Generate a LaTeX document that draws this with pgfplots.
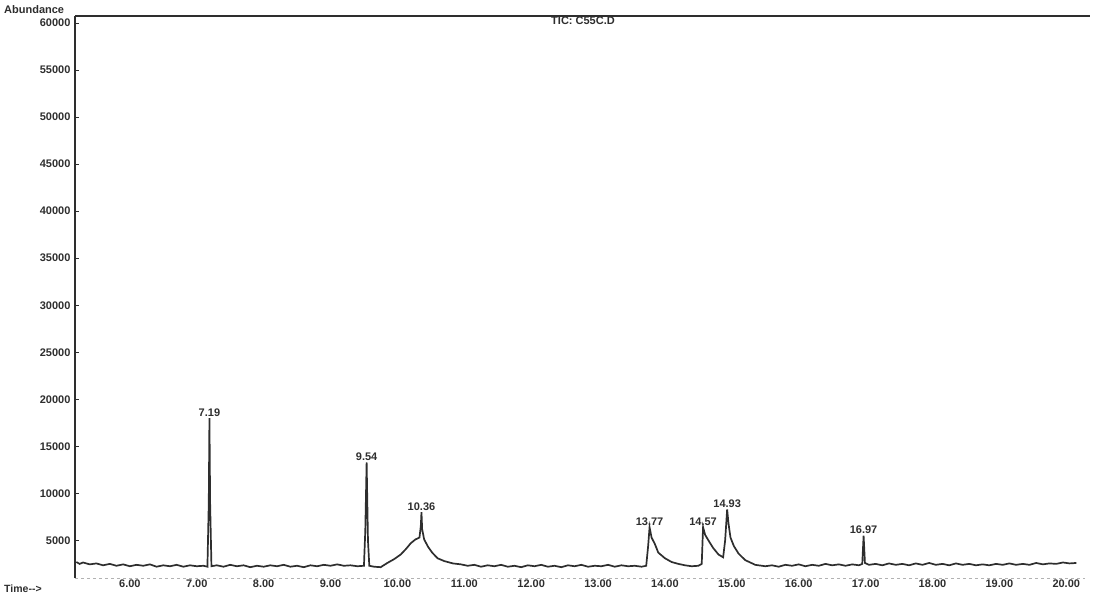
\documentclass[border=0pt]{standalone}
\usepackage{pgfplots}
\pgfplotsset{compat=1.18}
\usepackage{fontspec}
\setmainfont{Liberation Sans}
\definecolor{ink}{HTML}{2E2E2E}
\begin{document}
\begin{tikzpicture}[x=1pt,y=1pt]
\useasboundingbox (0,0) rectangle (1098,608);
\begin{axis}[
  at={(75pt,30pt)}, anchor=south west,
  scale only axis, width=1010pt, height=562pt,
  xmin=5.18, xmax=20.28, ymin=1000, ymax=60750,
  axis y line*=left, axis x line*=bottom,
  y axis line style={draw=ink, line width=2.2pt, -},
  x axis line style={draw=gray!60, line width=0.8pt, dashed, -},
  ytick={5000,10000,...,60000},
  scaled y ticks=false,
  xtick={6,7,...,20},
  /pgf/number format/assume math mode=true,
  yticklabel={\pgfmathprintnumber[fixed,precision=0,set thousands separator={}]{\tick}},
  xticklabel={\pgfmathprintnumber[fixed,fixed zerofill,precision=2]{\tick}},
  tick label style={font=\fontsize{11}{12}\selectfont\bfseries, text=ink},
  y tick label style={xshift=-1pt},
  x tick label style={yshift=2pt},
  major tick length=4pt,
  ytick style={draw=ink, line width=0.8pt},
  xtick style={draw=none},
  clip=false,
]
\addplot[ink, line width=1.7pt] coordinates {
(5.20,2700)(5.25,2500)(5.30,2650)(5.40,2450)(5.50,2550)(5.60,2350)(5.70,2500)(5.80,2300)(5.90,2450)
(6.00,2250)(6.10,2400)(6.20,2300)(6.30,2450)(6.40,2200)(6.50,2350)(6.60,2250)(6.70,2400)(6.80,2200)(6.90,2350)
(7.00,2250)(7.10,2300)(7.16,2200)(7.18,9000)(7.19,18000)(7.20,9000)(7.22,2250)(7.30,2350)(7.40,2200)(7.50,2400)
(7.60,2250)(7.70,2350)(7.80,2150)(7.90,2300)(8.00,2200)(8.10,2350)(8.20,2250)(8.30,2400)(8.40,2200)(8.50,2300)
(8.60,2150)(8.70,2350)(8.80,2250)(8.90,2400)(9.00,2300)(9.10,2450)(9.20,2300)(9.30,2350)(9.40,2250)(9.50,2300)
(9.52,6000)(9.54,13300)(9.56,5000)(9.58,2300)(9.65,2200)(9.75,2150)(9.85,2600)(9.95,3000)(10.05,3500)(10.13,4100)
(10.20,4700)(10.27,5100)(10.33,5300)(10.35,6500)(10.36,8000)(10.37,6200)(10.40,5100)(10.46,4300)(10.52,3700)
(10.60,3100)(10.70,2800)(10.83,2550)(10.95,2450)(11.05,2300)(11.15,2400)(11.25,2200)(11.35,2350)(11.45,2250)
(11.55,2400)(11.65,2200)(11.75,2300)(11.85,2150)(11.95,2350)(12.05,2250)(12.15,2400)(12.25,2200)(12.35,2300)
(12.45,2150)(12.55,2350)(12.65,2250)(12.75,2400)(12.85,2200)(12.95,2300)(13.05,2250)(13.15,2400)(13.25,2200)
(13.35,2350)(13.45,2250)(13.55,2300)(13.65,2200)(13.72,2300)(13.75,4500)(13.77,6400)(13.80,5300)(13.85,4600)
(13.90,3700)(14.00,3100)(14.10,2700)(14.20,2500)(14.30,2350)(14.40,2250)(14.50,2300)(14.55,2500)(14.57,6400)
(14.60,5600)(14.65,5000)(14.72,4200)(14.80,3500)(14.87,3200)(14.90,5000)(14.93,8300)(14.95,6800)(14.98,5300)
(15.03,4400)(15.10,3600)(15.20,2900)(15.35,2400)(15.50,2250)(15.60,2350)(15.70,2200)(15.80,2400)(15.90,2300)
(16.00,2450)(16.10,2250)(16.20,2400)(16.30,2300)(16.40,2500)(16.50,2350)(16.60,2450)(16.70,2300)(16.80,2450)
(16.90,2350)(16.95,2500)(16.97,5500)(16.99,2600)(17.05,2400)(17.15,2500)(17.25,2350)(17.35,2550)(17.45,2400)
(17.55,2500)(17.65,2350)(17.75,2550)(17.85,2400)(17.95,2600)(18.05,2400)(18.15,2500)(18.25,2350)(18.35,2550)
(18.45,2400)(18.55,2500)(18.65,2350)(18.75,2450)(18.85,2350)(18.95,2500)(19.05,2400)(19.15,2550)(19.25,2400)
(19.35,2500)(19.45,2400)(19.55,2600)(19.65,2450)(19.75,2550)(19.85,2500)(19.95,2650)(20.05,2550)(20.15,2600)
};
\draw[ink, line width=2.4pt] (rel axis cs:0,1) -- (rel axis cs:1.005,1);
\begin{scope}[every node/.style={font=\fontsize{11}{12}\selectfont\bfseries, text=ink, anchor=south, inner sep=1.5pt}]
\node at (axis cs:7.19,18000) {7.19};
\node at (axis cs:9.54,13300) {9.54};
\node at (axis cs:10.36,8000) {10.36};
\node at (axis cs:13.77,6400) {13.77};
\node at (axis cs:14.57,6400) {14.57};
\node at (axis cs:14.93,8300) {14.93};
\node at (axis cs:16.97,5500) {16.97};
\end{scope}
\end{axis}
\node[anchor=west, font=\fontsize{11}{12}\selectfont\bfseries, text=ink, inner sep=0pt] at (4,598) {Abundance};
\node[anchor=west, font=\fontsize{10.5}{12}\selectfont\bfseries, text=ink, inner sep=0pt] at (4,19) {Time-{}-{}>};
\node[anchor=north, font=\fontsize{11}{12}\selectfont\bfseries, text=ink, inner sep=1pt] at (583,592) {TIC: C55C.D};
\end{tikzpicture}
\end{document}
